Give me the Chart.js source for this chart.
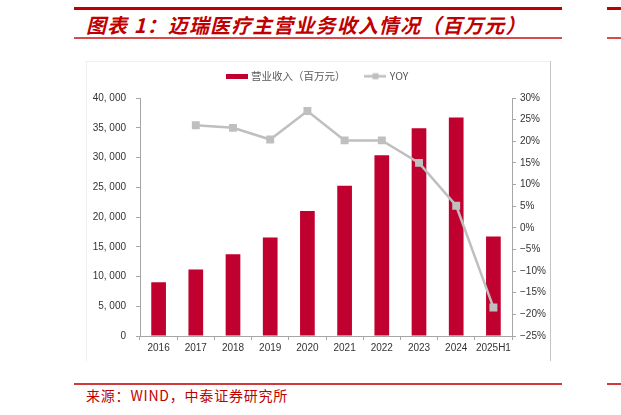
<!DOCTYPE html>
<html>
<head>
<meta charset="utf-8">
<script src="https://cdn.jsdelivr.net/npm/chart.js@4.4.1/dist/chart.umd.min.js"></script>
<style>
  html, body { margin:0; padding:0; background:#fff; }
  body { width:621px; height:415px; position:relative; overflow:hidden; }
  .abs { position:absolute; }
  #title { left:86px; top:15px; height:20px; line-height:20px; white-space:nowrap;
    font-family:"Noto Sans CJK SC", sans-serif; font-weight:bold; font-style:italic;
    font-size:20px; letter-spacing:1.1px; color:#C00000; }
  #source { left:86px; top:386px; height:18px; line-height:18px; white-space:nowrap;
    font-family:"Noto Sans CJK SC", sans-serif; font-size:14px; letter-spacing:0.8px; color:#C00000; }
  #wrap { left:86px; top:61px; width:464px; height:300px; }
</style>
</head>
<body>
<div class="abs" style="left:74px;top:7px;width:488px;height:3px;background:#C00000"></div>
<div class="abs" style="left:607px;top:7px;width:14px;height:3px;background:#C00000"></div>
<div id="title" class="abs">图表 1：迈瑞医疗主营业务收入情况（百万元）</div>
<div class="abs" style="left:74px;top:37px;width:488px;height:1.5px;background:#D94A4A"></div>
<div class="abs" style="left:607px;top:37px;width:14px;height:1.5px;background:#D94A4A"></div>

<div class="abs" style="left:86px;top:61px;width:464px;height:1px;background:#F0F0F0"></div>
<div class="abs" style="left:86px;top:61px;width:1px;height:300px;background:#EEEEEE"></div>
<div class="abs" style="left:550px;top:61px;width:1px;height:300px;background:#C4C4C4"></div>

<div id="wrap" class="abs"><canvas id="c" width="464" height="300"></canvas></div>

<div class="abs" style="left:74px;top:383px;width:488px;height:1.5px;background:#D03A3A"></div>
<div class="abs" style="left:607px;top:383px;width:14px;height:1.5px;background:#D03A3A"></div>
<div id="source" class="abs">来源：WIND，中泰证券研究所</div>

<script>
const categories = ['2016', '2017', '2018', '2019', '2020', '2021', '2022', '2023', '2024', '2025H1'];
const revenue = [9032, 11174, 13753, 16556, 21026, 25270, 30366, 34932, 36726, 16743];
const yoy = [null, 23.7, 23.1, 20.4, 27.0, 20.2, 20.2, 15.0, 5.1, -18.4];
const seriesNames = ['营业收入（百万元）', 'YOY'];
const leftTicks = { min: 0, max: 40000, step: 5000 };
const rightTicks = { min: -25, max: 30, step: 5 };

const BAR_COLOR = '#C0002F';
const LINE_COLOR = '#BFBFBF';
const AXIS_COLOR = '#A6A6A6';
const TICK_COLOR = '#333333';

function barIcon() {
  const c = document.createElement('canvas');
  c.width = 22; c.height = 5;
  const g = c.getContext('2d');
  g.fillStyle = BAR_COLOR; g.fillRect(0, 0, 22, 5);
  return c;
}
function lineIcon() {
  const c = document.createElement('canvas');
  c.width = 22; c.height = 9;
  const g = c.getContext('2d');
  g.strokeStyle = LINE_COLOR; g.lineWidth = 2.5;
  g.beginPath(); g.moveTo(0, 4.5); g.lineTo(22, 4.5); g.stroke();
  g.fillStyle = LINE_COLOR; g.fillRect(8, 1.5, 6, 6);
  return c;
}
const icons = [barIcon(), lineIcon()];

function fmtThousands(v) {
  return Number(v).toLocaleString('en-US').replace(/,/g, ', ');
}
function fmtPct(v) {
  return (v < 0 ? '\u2212' + Math.abs(v) : String(v)) + '%';
}

const tickFont = { family: '"Liberation Sans", Arial, sans-serif', size: 10 };

new Chart(document.getElementById('c'), {
  data: {
    labels: categories,
    datasets: [
      {
        type: 'bar', label: seriesNames[0], data: revenue, yAxisID: 'y',
        backgroundColor: BAR_COLOR, borderWidth: 0,
        barPercentage: 0.395, categoryPercentage: 1.0, order: 1
      },
      {
        type: 'line', label: seriesNames[1], data: yoy, yAxisID: 'y1',
        borderColor: LINE_COLOR, borderWidth: 2.5, tension: 0,
        pointStyle: 'rect', pointRadius: 5.6, pointBackgroundColor: LINE_COLOR,
        pointBorderWidth: 0, pointHoverRadius: 5.6, spanGaps: false, order: 0
      }
    ]
  },
  options: {
    responsive: false,
    animation: false,
    layout: { padding: { top: -11, left: 0, right: 0, bottom: 0 } },
    plugins: {
      tooltip: { enabled: false },
      title: { display: false },
      subtitle: {
        display: true, text: ' ', weight: 500, position: 'top',
        font: { size: 1, lineHeight: 1 }, padding: { top: 0, bottom: 5.5 }
      },
      legend: {
        display: true, position: 'top', align: 'center',
        labels: {
          usePointStyle: true, pointStyleWidth: 18, padding: 21,
          font: { family: '"Noto Sans CJK SC", sans-serif', size: 10.5 },
          color: '#595959',
          generateLabels: (chart) => chart.data.datasets.map((ds, i) => ({
            text: ds.label, pointStyle: icons[i], datasetIndex: i,
            fillStyle: 'transparent', strokeStyle: 'transparent', lineWidth: 0,
            hidden: false, fontColor: '#595959'
          })),
          sort: (a, b) => a.datasetIndex - b.datasetIndex
        }
      }
    },
    scales: {
      x: {
        type: 'category', offset: true,
        grid: { offset: true, drawOnChartArea: false, drawTicks: true, tickLength: 4, color: AXIS_COLOR },
        border: { display: true, color: AXIS_COLOR, width: 1 },
        ticks: { font: tickFont, color: TICK_COLOR, padding: 2, maxRotation: 0, autoSkip: false },
        afterFit: (s) => { s.height = 25; }
      },
      y: {
        type: 'linear', position: 'left',
        min: leftTicks.min, max: leftTicks.max,
        grid: { drawOnChartArea: false, drawTicks: true, tickLength: 4, color: AXIS_COLOR },
        border: { display: true, color: AXIS_COLOR, width: 1 },
        ticks: { stepSize: leftTicks.step, font: tickFont, color: TICK_COLOR, padding: 10, callback: fmtThousands },
        afterFit: (s) => { s.width = 54; }
      },
      y1: {
        type: 'linear', position: 'right',
        min: rightTicks.min, max: rightTicks.max,
        grid: { drawOnChartArea: false, drawTicks: true, tickLength: 4, color: AXIS_COLOR },
        border: { display: true, color: AXIS_COLOR, width: 1 },
        ticks: { stepSize: rightTicks.step, font: tickFont, color: TICK_COLOR, padding: 4, callback: fmtPct },
        afterFit: (s) => { s.width = 38; }
      }
    }
  }
});
</script>
</body>
</html>
